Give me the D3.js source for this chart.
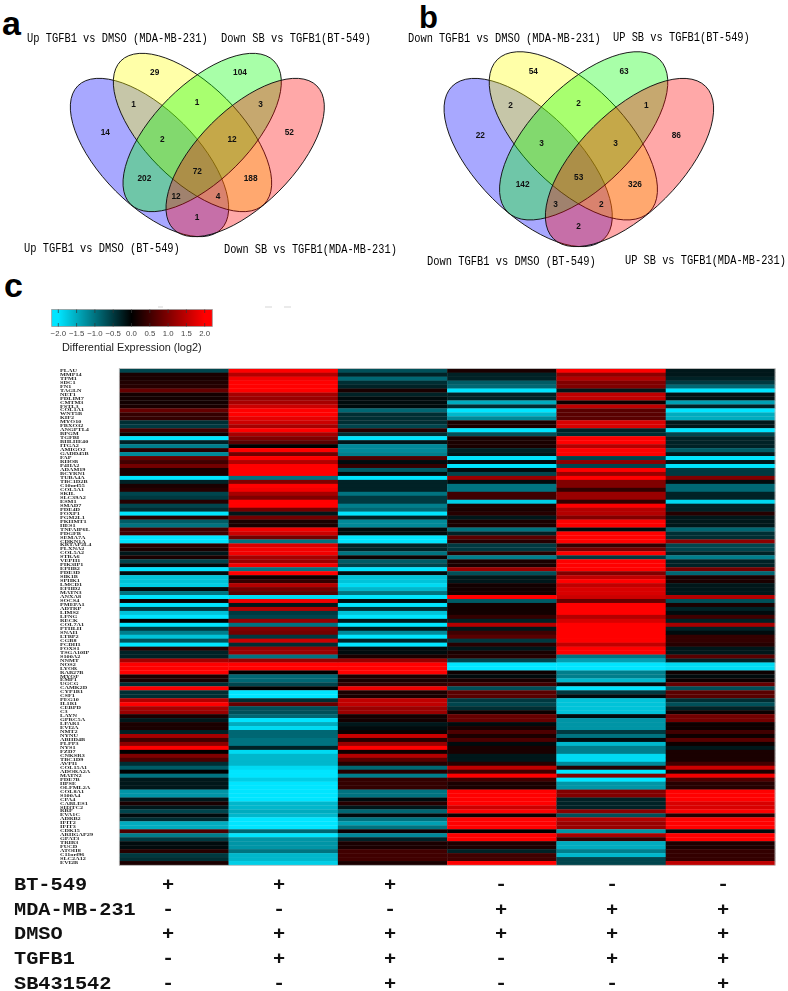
<!DOCTYPE html>
<html>
<head>
<meta charset="utf-8">
<script src="https://cdn.jsdelivr.net/npm/d3@7"></script>
<style>
  html, body { margin: 0; padding: 0; background: #fff; }
  svg { display: block; }
</style>
</head>
<body>
<div id="canvas"></div>
<script>
// heatmap genes, top to bottom
const genes = ["PLAU","MMP14","TPM1","SDC1","FN1","TAGLN","NET1","PDLIM7","CMTM3","FSTL3",
  "COL1A1","WNT5B","KIF2","MYO10","FBXO32","ANGPTL4","BPGM","TGFBI","BHLHE40","ITGA2",
  "AMIGO2","GADD45B","FAP","RHOB","P4HA2","ADAM19","BCYRN1","TUBA4A","TBC1D2B","C10orf55",
  "COL5A1","SKIL","SLC39A2","ESM1","SMAD7","PDE4D","FOXP1","PGM2L1","PKHMT1","HES1",
  "TNFAIP6L","PDGFB","SEMA7A","CDKN1A","KRTAP2L4","PLXNA2","COL5A2","STRA6","VEPH1","PIK3IP1",
  "EPHB2","PDE3D","SIK1B","SPHK1","LMCD1","EFHD2","MATN3","ANXA8","SOCS4","PMEPA1",
  "ADTRP","LIMS2","LFNG","RECK","COL7A1","PTHLH","SNAI1","LTBP2","CGB8","PCDH1",
  "FOXS1","TSGA10IP","S100A2","NNMT","NOS2","LYOR","RAB27B","MYOF","EMP1","UGCG",
  "CAMK2D","CYP1B1","CSF1","PEG10","IL1R1","CEBPD","C3","LAYN","GPRC5A","LPAR1",
  "EVI2A","NMT2","NYNU","ABHD4B","PLPP3","NYS1","FZD7","CNKSR3","TBC1D9","AVPI1",
  "COL15A1","ADORA2A","MATN2","PDE7B","HPSE","OLFML2A","COL8A1","S100A4","CPA4","CABLES1",
  "SH3TC2","RRP","EVA1C","ADRB2","IFIT2","IFIT3","CDK15","ARHGAP29","GPAT3","TRIB3",
  "FUCD","ATOH8","C11orf96","SLC2A12","EVI2B"];

const columns = ["bt_dmso","bt_tgfb","bt_sb","mda_dmso","mda_tgfb","mda_sb"];

const btDmso = [-.6,.2,.2,.25,.3,.8,.15,.15,.15,.2,
  .8,.4,.4,-.4,-.5,.5,.1,-2,-.3,-1.1,
  .3,-1.2,.8,.5,.9,.2,.2,-2,-.3,.2,
  .3,-.6,-.5,.3,-.6,-.4,-2,.3,-.8,-1,
  .5,.5,-2,-2,.3,.2,-.2,.2,-.6,-.1,
  -2,-.1,-1.7,-1.7,-1.8,-.1,-1,-2,.1,-2,
  -.5,-1.7,-2,0,-2,-.5,-1.1,-1.7,-.7,-2,
  .3,-.3,-.3,1.3,2,2,2,.2,.2,-.4,
  2,-.4,-.4,1.4,2,1.3,1.2,.2,-.2,.2,
  .2,-.3,1.3,.5,1.1,2,0,1,.6,-.4,
  -.8,0,-1,-.2,-.2,-.2,-1.3,-1.3,-.2,.2,
  -.2,-.6,-.1,-.4,-1.5,-1.5,.6,-1.1,-.5,-.1,
  -.1,.3,-.5,-.4,.2];

const btTgfb = [2,1.4,1.9,2,2,2,1.3,1.2,1.3,1.6,
  2,2,1.8,1.6,1.3,2,1.3,1,.7,0,
  2,.9,2,1.4,2,2,2,-1,1,2,
  1.9,1.3,1,2,2,.9,-.2,.9,.2,.2,
  1.9,1.6,.9,-1,1.7,1.9,1.9,1.3,1.2,1.9,
  -1,2,.1,.4,1.4,.9,.7,-1.9,1.9,-.2,
  1.4,-.5,-.6,1.2,-1,1,.9,-.5,1.6,-.4,
  1.2,1.2,-1,1.2,2,2,0,-.9,-.9,-.6,
  0,-2,-2,-.4,.8,-.7,-.7,-.9,-2,-1.5,
  -1.9,-.9,-.9,-1,-1,-.3,-1.9,-1.6,-1.6,-1.6,
  -1.9,-2,-2,-1.8,-2,-2,-2,-2,-2,-1.6,
  -1.6,-1.5,-1.6,-2,-2,-2,-.9,-2,-1.3,-1.3,
  -1.3,-1,-1.6,-1.6,-1.8];

const btSb = [-.7,-.3,-.9,-.4,-.3,.2,-.3,-.1,-.1,-.1,
  -.9,-.4,-.4,-.4,-.6,.3,-.4,-2,-.2,-1.2,
  -1.2,-1.1,.6,-.1,.4,-.8,-.1,-2,-.3,-.3,
  -.3,-1,-.5,-.5,-1.1,-.9,-2,-.3,-1.2,-1.2,
  -.1,-.1,-2,-2,-.3,-.3,-1,.1,-.8,-.6,
  -2,-.1,-1.7,-1.7,-1.9,-1.6,-1,-2,-.1,-2,
  -.4,-1.7,-2,-.2,-2,-.2,-1.2,-2,-.3,-2,
  -.1,-.1,.2,1.2,2,2,2,.2,.2,.4,
  1.9,.2,.2,1.5,1.5,1.2,1.2,.15,.15,-.2,
  -.1,.1,1.6,.3,1.2,2,.1,1.4,.7,.3,
  -.9,.3,-1.1,.4,.4,.4,-1,-1,-.1,.3,
  -.2,-.9,-.1,-1,-1.4,-1,.1,-1.2,-.3,.2,
  .2,.5,.5,.5,.2];

const mdaDmso = [.2,-.3,-.3,-.8,-.9,-2,-.3,-.3,-1.5,-.4,
  -2,-1.6,-1.2,.2,.2,-2,-.7,.2,.2,.2,
  -.3,-.2,-2,-.1,-2,-.1,-.6,1.2,-.1,-1,
  -1,.5,.5,-1.8,.2,.2,.3,-.2,.2,.2,
  -1,-.3,.7,.3,-.5,-.5,.3,-1.1,.2,.2,
  1.2,-.7,-.2,-.2,.15,.15,.15,2,-.8,.15,
  .15,.15,.4,-.3,1.4,-.2,.5,.7,-.5,.3,
  -.2,.2,.3,-.6,-2,-2,.1,-.1,.2,.5,
  -.7,.7,.7,-.5,-.6,-.4,.1,.8,.8,-.1,
  .2,.6,.2,.6,-.1,.2,.2,-.2,-.2,.3,
  1.5,.5,2,.5,.2,.2,2,2,2,2,
  1.6,2,.1,2,2,2,0,2,2,.2,
  .2,-.3,.5,.5,2];

const mdaTgfb = [2,1.1,1.4,1,1,-.2,1.5,1.5,.1,1.5,
  .7,.7,.7,1.7,1.7,-.3,-.4,2,2,1.4,
  2,2,-.6,1.1,-.6,2,1.2,2,1,1,
  .4,1.2,1.2,.4,2,1.4,1.4,1,2,2,
  -.1,2,2,2,.4,.9,2,-.5,2,2,
  2,1,1.5,2,1.5,1.7,1.7,1.6,.8,2,
  2,2,1.4,1.7,2,2,2,2,2,1.5,
  2,2,-1,-1.4,-2,-2,-1.1,-1.1,-1.6,-.1,
  -2,-.5,-.1,-1.7,-1.7,-1.7,-1.7,-.1,-1.3,-1.3,
  -1.3,-.5,-1,-.1,-1.6,-1.1,-1.1,-1.9,-1.9,-1.2,
  .3,-2,1,-2,-1.3,-1.3,1,1,-.3,-.3,
  -.3,1.1,-.7,1.4,1.2,1.2,-1.3,1.3,.4,-1.5,
  -1.5,-1.1,-1.6,-.6,-.6];

const mdaSb = [-.2,-.2,-.3,-.5,-.9,-2,-.15,-.15,-1.4,-.3,
  -2,-1.5,-1.5,-.2,-.2,-2,-.6,-.3,-.3,-.3,
  -.8,-.2,-2,-.2,-2,-.5,-.5,1,-.1,-.9,
  -.9,-.3,-.3,-1.9,-.3,-.3,.3,-.2,-.2,-.2,
  -.9,-.4,-.4,1.1,-.6,-.6,-.3,-1.1,-.3,-.3,
  .9,-.9,.2,.2,-.2,-.2,-.2,1.4,-.7,.2,
  -.3,-.1,.5,-.3,1.3,-.3,-.1,.4,.4,.3,
  -.2,-.2,.7,-.3,-1.9,-1.9,.1,-.1,.1,.8,
  -.7,.7,.7,-.4,-.7,-.3,.1,.9,.9,.1,
  .1,.5,.1,.7,.1,-.2,.2,.2,.2,.5,
  1.6,.2,1.9,.6,.3,.3,2,2,2,1.7,
  1.7,2,.3,2,2,2,-.1,2,2,.2,
  .2,.4,.4,.4,1.5];

const heat = [btDmso, btTgfb, btSb, mdaDmso, mdaTgfb, mdaSb];
const keyTicks = [-2,-1.5,-1,-.5,0,.5,1,1.5,2];

// treatment table under the heatmap
const treatments = ["BT-549","MDA-MB-231","DMSO","TGFB1","SB431542"];
const signs = [
  ["+","+","+","-","-","-"],
  ["-","-","-","+","+","+"],
  ["+","+","+","+","+","+"],
  ["-","+","+","-","+","+"],
  ["-","-","+","-","-","+"]
];

// venn counts, same region order in both panels
const countsA = [14,29,104,52,1,1,3,2,12,202,72,188,12,4,1];
const countsB = [22,54,63,86,2,2,1,3,3,142,53,326,3,2,2];

const width = 788, height = 991;
const svg = d3.select("#canvas").append("svg").attr("width",width).attr("height",height);
svg.append("rect").attr("width",width).attr("height",height).attr("fill","#fff");

const MONO = "'Liberation Mono', monospace";
const SANS = "'Liberation Sans', Arial, sans-serif";

// --- panel letters
[["a",2,35,34],["b",419,28,31],["c",4,297,34]].forEach(p=>{
  svg.append("text").text(p[0]).attr("x",p[1]).attr("y",p[2])
    .attr("font-family",SANS).attr("font-weight","bold").attr("font-size",p[3]).attr("fill","#000");
});

// --- venn diagrams
const vennColors = ["#0000ff","#ffff00","#00ff00","#ff0000"];

function drawVenn(cfg){
  const x = d3.scaleLinear().domain([0,1182]).range(cfg.range);
  const y = d3.scaleLinear().domain([0,1182]).range([0,394]);
  const g = svg.append("g").style("filter","blur(0.3px)");
  // blue, yellow, green, pink
  g.selectAll("ellipse").data(cfg.centres).enter().append("ellipse")
    .attr("rx",cfg.a/3).attr("ry",cfg.b/3)
    .attr("transform",(d,i)=>`translate(${x(d[0])},${y(d[1])}) rotate(${i==0||i==1?45:-45})`)
    .attr("fill",(d,i)=>vennColors[i]).attr("fill-opacity",0.34)
    .attr("stroke","#111").attr("stroke-width",0.9);
  g.selectAll("text.count").data(cfg.counts).enter().append("text")
    .attr("class","count")
    .attr("x",(d,i)=>x(cfg.spots[i][0])).attr("y",(d,i)=>y(cfg.spots[i][1])+3)
    .attr("text-anchor","middle").attr("font-family",SANS).attr("font-weight","bold")
    .attr("font-size",8.3).attr("fill","#111").text(d=>d);
  // the set names are narrow and tall: size for the width, then stretch up
  cfg.labels.forEach(l=>{
    const fs = (l[2]-l[1])/(l[0].length*0.6);
    g.append("text").text(l[0])
      .attr("transform",`translate(${l[1]},${l[3]}) scale(1,${12.5/fs})`)
      .attr("font-family",MONO).attr("font-size",fs).attr("fill","#000");
  });
}

drawVenn({
  range:[0,394], a:304, b:143, counts:countsA,
  centres:[[448.5,472.5],[577.5,397.5],[606.5,397.5],[735.5,472.5]],
  spots:[[316,397],[464,217],[720,217],[868,397],[401,312],[591,306],[782,312],[487,418],
    [696,418],[433,534],[592,513],[752,534],[528,589],[654,589],[591,651]],
  labels:[["Up TGFB1 vs DMSO (MDA-MB-231)",27,208,41.5],["Down SB vs TGFB1(BT-549)",221,371,41.5],
    ["Up TGFB1 vs DMSO (BT-549)",24,180,251.5],["Down SB vs TGFB1(MDA-MB-231)",224,397,253]]
});

drawVenn({
  range:[394,788], a:323, b:152, counts:countsB,
  centres:[[402.5,487.5],[538,407.5],[569,407.5],[706.5,487.5]],
  spots:[[259,406],[418,214],[690,214],[847,406],[350,316],[554,310],[757,316],[443,428],
    [665,428],[386,553],[554,531],[723,553],[485,612],[622,612],[554,678]],
  labels:[["Down TGFB1 vs DMSO (MDA-MB-231)",408,601,41.5],["UP SB vs TGFB1(BT-549)",613,750,40.5],
    ["Down TGFB1 vs DMSO (BT-549)",427,596,265],["UP SB vs TGFB1(MDA-MB-231)",625,786,264]]
});

// --- colour scale shared by key and heatmap
const color = d3.scaleLinear().domain([-2,0,2]).range(["#00e5ff","#000000","#ff0000"]).clamp(true);

// --- colour key
const keyX = d3.scaleLinear().domain([-2,2]).range([58.3,204.7]);
const keyLo = keyX.invert(51.7), keyHi = keyX.invert(212.3);
const grad = svg.append("defs").append("linearGradient").attr("id","keyGrad");
grad.selectAll("stop").data([keyLo,-2,0,2,keyHi]).enter().append("stop")
  .attr("offset",d=>(d-keyLo)/(keyHi-keyLo)).attr("stop-color",d=>color(d));
const key = svg.append("g").style("filter","blur(0.3px)");
key.append("rect").attr("x",51.7).attr("y",309.5).attr("width",160.6).attr("height",17)
  .attr("fill","url(#keyGrad)").attr("stroke","#9a9a9a").attr("stroke-width",0.8);
keyTicks.forEach(t=>{
  key.append("line").attr("x1",keyX(t)).attr("x2",keyX(t)).attr("y1",309.5).attr("y2",313)
    .attr("stroke","#333").attr("stroke-width",0.7);
  key.append("line").attr("x1",keyX(t)).attr("x2",keyX(t)).attr("y1",323).attr("y2",326.5)
    .attr("stroke","#333").attr("stroke-width",0.7);
  key.append("text").text(d3.format(".1f")(t)).attr("x",keyX(t)).attr("y",336)
    .attr("text-anchor","middle").attr("font-family",SANS).attr("font-size",7.8).attr("fill","#444");
});
key.append("text").text("Differential Expression (log2)").attr("x",62).attr("y",350.5)
  .attr("font-family",SANS).attr("font-size",10.9).attr("fill","#222");
// leftover marks above the key in the original figure
[[158,163],[265,272],[284,291]].forEach(m=>{
  svg.append("line").attr("x1",m[0]).attr("x2",m[1]).attr("y1",307).attr("y2",307)
    .attr("stroke","#d0d0d0").attr("stroke-width",0.9);
});

// --- heatmap
const heatX = d3.scaleBand().domain(columns).range([119.3,775]);
const heatY = d3.scaleBand().domain(genes).range([368.7,865]);

const hm = svg.append("g").style("filter","blur(0.45px)");
columns.forEach((c,ci)=>{
  hm.append("g").selectAll("rect").data(heat[ci]).enter().append("rect")
    .attr("x",heatX(c))
    .attr("y",(d,i)=>heatY(genes[i]))
    .attr("width",heatX.bandwidth()+0.3)
    .attr("height",heatY.bandwidth()+0.3)
    .attr("fill",d=>color(d));
});
hm.append("rect").attr("x",119.3).attr("y",368.4).attr("width",655.7).attr("height",496.9)
  .attr("fill","none").attr("stroke","#bdbdbd").attr("stroke-width",0.8);

// gene labels are tiny and wide in the original, so stretch them
const labels = svg.append("g").attr("transform","translate(60,0) scale(1.35,1)")
  .style("filter","blur(0.25px)");
labels.selectAll("text").data(genes).enter().append("text")
  .attr("x",0)
  .attr("y",d=>heatY(d)+heatY.bandwidth()/2+1.1)
  .attr("font-family","'Liberation Serif', serif").attr("font-weight","bold")
  .attr("font-size",4.6).attr("fill","#222").text(d=>d);

// --- treatment table
const rowY = d3.scalePoint().domain(treatments).range([890,988.5]);
const signX = d3.scalePoint().domain(columns).range([168,723]);
const tableSize = 20.3, tableStretch = 0.86;
const table = svg.append("g").style("filter","blur(0.3px)");
treatments.forEach((t,r)=>{
  table.append("text").text(t)
    .attr("transform",`translate(14,${rowY(t)}) scale(1,${tableStretch})`)
    .attr("font-family",MONO).attr("font-weight","bold").attr("font-size",tableSize).attr("fill","#111");
  table.selectAll("text.s"+r).data(signs[r]).enter().append("text")
    .attr("class","s"+r)
    .attr("transform",(d,i)=>`translate(${signX(columns[i])},${rowY(t)}) scale(1,${tableStretch})`)
    .attr("text-anchor","middle").attr("font-family",MONO).attr("font-weight","bold")
    .attr("font-size",tableSize).attr("fill","#111").text(d=>d);
});
</script>
</body>
</html>
